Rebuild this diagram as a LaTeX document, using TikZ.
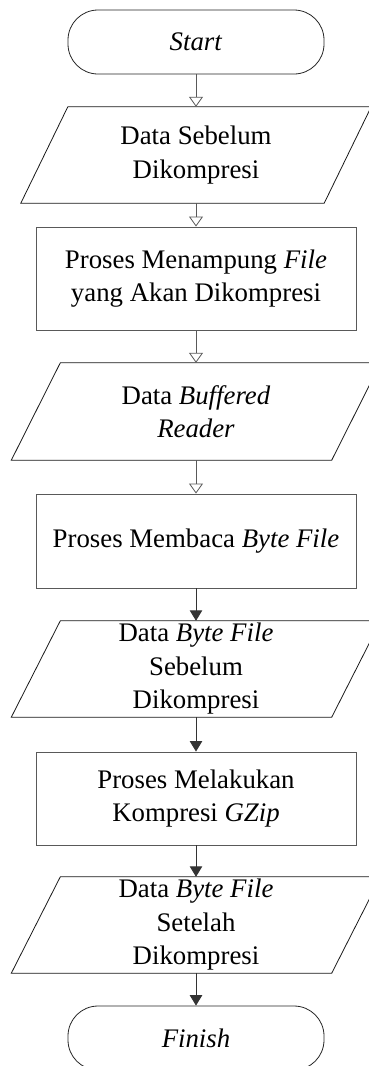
\documentclass[tikz,border=0pt]{standalone}
\usepackage{fontspec}
\setmainfont{Liberation Serif}
\usetikzlibrary{arrows.meta}
\begin{document}
\begin{tikzpicture}[x=1pt,y=-1pt,
  every node/.style={font=\fontsize{26.8}{33.5}\selectfont, align=center, inner sep=0pt},
  term/.style={draw=black!85, line width=0.8pt, rounded corners=30pt, minimum width=256pt, minimum height=64pt},
  procbox/.style={draw=black!65, line width=0.9pt, minimum width=320pt},
  iobox/.style={minimum height=96pt},
  flowopen/.style={draw=black!65, line width=0.9pt, -{Triangle[open, length=10pt, width=14pt, line width=0.8pt]}},
  flowfill/.style={draw=black!80, line width=0.9pt, -{Triangle[length=10.5pt, width=12.5pt]}},
  ioline/.style={draw=black!90, line width=0.8pt}
]
\useasboundingbox (0,0) rectangle (368,1066);

% flowchart nodes, top to bottom
\node[term] (start) at (196,42) {\textit{Start}};
\node[iobox, minimum width=303pt] (d1) at (196,155) {Data Sebelum\\Dikompresi};
\node[procbox, minimum height=103pt] (p1) at (196,278.5) {Proses Menampung \textit{File}\\yang Akan Dikompresi};
\node[iobox, minimum width=320pt, minimum height=97pt] (d2) at (196,411.5) {Data \textit{Buffered}\\\textit{Reader}};
\node[procbox, minimum height=94pt] (p2) at (196,541) {Proses Membaca \textit{Byte File}};
\node[iobox, minimum width=320pt] (d3) at (196,669) {Data \textit{Byte File}\\Sebelum\\Dikompresi};
\node[procbox, minimum height=93pt] (p3) at (196,798.5) {Proses Melakukan\\Kompresi \textit{GZip}};
\node[iobox, minimum width=320pt] (d4) at (196,925) {Data \textit{Byte File}\\Setelah\\Dikompresi};
\node[term] (finish) at (196,1038) {\textit{Finish}};

% data (input/output) parallelograms around the io nodes
\draw[ioline] ([xshift=23.5pt]d1.north west) -- ([xshift=23.5pt]d1.north east)
  -- ([xshift=-23.5pt]d1.south east) -- ([xshift=-23.5pt]d1.south west) -- cycle;
\foreach \n in {d2,d3,d4}
  \draw[ioline] ([xshift=24.5pt]\n.north west) -- ([xshift=24.5pt]\n.north east)
    -- ([xshift=-24.5pt]\n.south east) -- ([xshift=-24.5pt]\n.south west) -- cycle;

% connectors
\draw[flowopen] (start.south) -- (d1.north);
\draw[flowopen] (d1.south) -- (p1.north);
\draw[flowopen] (p1.south) -- (d2.north);
\draw[flowopen] (d2.south) -- (p2.north);
\draw[flowfill] (p2.south) -- (d3.north);
\draw[flowfill] (d3.south) -- (p3.north);
\draw[flowfill] (p3.south) -- (d4.north);
\draw[flowfill] (d4.south) -- (finish.north);
\end{tikzpicture}
\end{document}
